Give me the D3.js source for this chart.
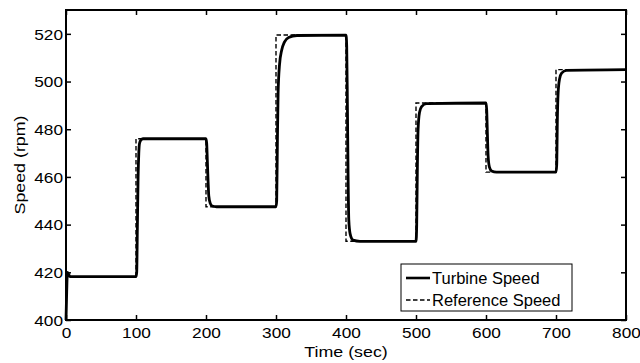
<!DOCTYPE html>
<html>
<head>
<meta charset="utf-8">
<script src="https://cdn.jsdelivr.net/npm/d3@7"></script>
<style>
  html, body { margin: 0; padding: 0; background: #fff; }
  svg { display: block; font-family: "Liberation Sans", Arial, sans-serif; }
</style>
</head>
<body>
<div id="chart"></div>
<script>
// ── Data ──
const refTimes = [0, 100, 200, 300, 400, 500, 600, 700, 800];
const refLevels = [418.2, 476, 447.5, 519.5, 433, 491, 462, 505];

const turbT = [0, 1, 2, 4, 6, 100,
  101, 102, 103, 104, 105, 107, 110, 200,
  201, 202, 203, 204, 206, 209, 215, 300,
  301, 302, 303, 305, 308, 312, 318, 330, 400,
  401, 402, 403, 404, 406, 410, 420, 500,
  501, 502, 503, 505, 508, 515, 600,
  601, 602, 603, 605, 608, 615, 700,
  701, 702, 703, 705, 708, 715, 800];
const turbV = [400, 412, 420, 419, 418.2, 418.2,
  420, 440, 460, 470, 474, 475.5, 476, 476,
  474, 466, 458, 452, 449, 447.8, 447.5, 447.5,
  450, 475, 495, 507, 513, 516.5, 518.5, 519.3, 519.5,
  515, 490, 460, 442, 436, 433.5, 433, 433,
  440, 465, 480, 487, 489.5, 490.7, 491,
  488, 478, 469, 464, 462.5, 462, 462,
  465, 485, 495, 501, 503.5, 504.7, 505];

const xTicks = [0, 100, 200, 300, 400, 500, 600, 700, 800];
const yTicks = [400, 420, 440, 460, 480, 500, 520];
const legendLabels = ["Turbine Speed", "Reference Speed"];

// ── Layout ──
const W = 640, H = 363;
const M = { t: 10, r: 14, b: 43, l: 66 };
const w = W - M.l - M.r, h = H - M.t - M.b;

const svg = d3.select("#chart").append("svg")
  .attr("width", W).attr("height", H);

const g = svg.append("g").attr("transform", `translate(${M.l},${M.t})`);

const x = d3.scaleLinear().domain([0, 800]).range([0, w]);
const y = d3.scaleLinear().domain([400, 530]).range([h, 0]);

// reference as step series
const refData = refLevels.map((v, i) => ({ t: refTimes[i], v }));
refData.push({ t: 800, v: refLevels[refLevels.length - 1] });

g.append("path")
  .datum(refData)
  .attr("d", d3.line().x(d => x(d.t)).y(d => y(d.v)).curve(d3.curveStepAfter))
  .attr("fill", "none")
  .attr("stroke", "#000")
  .attr("stroke-width", 1.4)
  .attr("stroke-dasharray", "4.5,2.5");

const turb = turbT.map((t, i) => ({ t, v: turbV[i] }));
g.append("path")
  .datum(turb)
  .attr("d", d3.line().x(d => x(d.t)).y(d => y(d.v)).curve(d3.curveMonotoneX))
  .attr("fill", "none")
  .attr("stroke", "#000")
  .attr("stroke-width", 2.8)
  .attr("stroke-linejoin", "round");

// ── Axes: box with inward ticks on all sides ──
const tickLen = 5;
const axB = g.append("g").attr("transform", `translate(0,${h})`)
  .call(d3.axisBottom(x).tickValues(xTicks).tickSizeInner(-tickLen).tickSizeOuter(0));
const axT = g.append("g")
  .call(d3.axisTop(x).tickValues(xTicks).tickSizeInner(-tickLen).tickSizeOuter(0).tickFormat(""));
const axL = g.append("g")
  .call(d3.axisLeft(y).tickValues(yTicks).tickSizeInner(-tickLen).tickSizeOuter(0));
const axR = g.append("g").attr("transform", `translate(${w},0)`)
  .call(d3.axisRight(y).tickValues(yTicks).tickSizeInner(-tickLen).tickSizeOuter(0).tickFormat(""));

[axB, axT, axL, axR].forEach(a => {
  a.attr("font-family", null).attr("font-size", null);
  a.select(".domain").remove();
  a.selectAll(".tick line").attr("stroke", "#000").attr("stroke-width", 1.5);
});

g.append("rect")
  .attr("width", w).attr("height", h)
  .attr("fill", "none").attr("stroke", "#000").attr("stroke-width", 2);

// tick labels, slightly wide like the source
axB.selectAll(".tick text")
  .attr("fill", "#000").attr("font-size", 15)
  .attr("y", 0).attr("dy", null)
  .attr("transform", "translate(0,18) scale(1.15,1)");
axL.selectAll(".tick text")
  .attr("fill", "#000").attr("font-size", 15)
  .attr("x", 0).attr("dy", "0.35em")
  .attr("transform", "translate(-3,0) scale(1.15,1)");

// ── Axis titles ──
svg.append("text")
  .attr("transform", `translate(${M.l + w / 2},357) scale(1.15,1)`)
  .attr("text-anchor", "middle").attr("font-size", 15.5)
  .text("Time (sec)");

svg.append("text")
  .attr("transform", `translate(25,${M.t + h / 2}) rotate(-90) scale(1.15,1)`)
  .attr("text-anchor", "middle").attr("font-size", 15.5)
  .text("Speed (rpm)");

// ── Legend ──
const lg = svg.append("g").attr("transform", "translate(401,264)");
lg.append("rect").attr("width", 171).attr("height", 47)
  .attr("fill", "#fff").attr("stroke", "#000").attr("stroke-width", 1);
legendLabels.forEach((lab, i) => {
  const yy = 14 + i * 22;
  lg.append("line")
    .attr("x1", 5).attr("x2", 29).attr("y1", yy).attr("y2", yy)
    .attr("stroke", "#000")
    .attr("stroke-width", i === 0 ? 2.6 : 1.4)
    .attr("stroke-dasharray", i === 0 ? null : "4.5,2.5");
  lg.append("text")
    .attr("x", 31).attr("y", yy).attr("dy", "0.36em")
    .attr("font-size", 16.5)
    .text(lab);
});
</script>
</body>
</html>
